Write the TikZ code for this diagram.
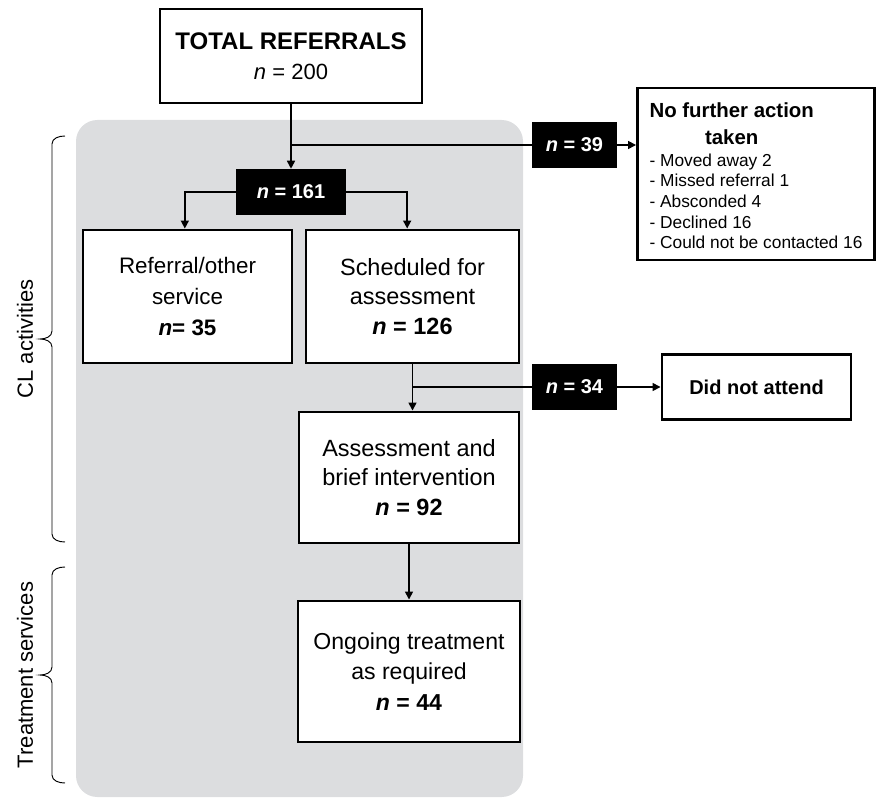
\documentclass[tikz,border=0pt]{standalone}
\usepackage{fontspec}
\setmainfont{Liberation Sans}
\usetikzlibrary{arrows.meta}
\definecolor{bggray}{RGB}{220,221,223}

\begin{document}
\begin{tikzpicture}[x=0.75pt, y=-0.75pt,
		box/.style={draw, line width=2.2pt, fill=white, align=center, inner sep=0pt,
			font=\fontsize{17.6}{22}\selectfont},
		count/.style={fill=black, text=white, inner sep=0pt, minimum width=63.75pt,
			minimum height=34.5pt, font=\fontsize{15}{18}\selectfont\bfseries},
		line/.style={line width=1.2pt},
		arr/.style={line width=1.2pt, -{Triangle[length=6pt,width=6pt]}}]
	\useasboundingbox (0,0) rectangle (877,798);
	% shaded area
	\fill[bggray, rounded corners=16pt] (76,120) rectangle (523,797);
	% braces
	\foreach \t/\b/\lab in {136/542/CL activities, 567/783/Treatment services}{
		\draw[line width=0.7pt] (65,\t) to[out=180,in=90] (52,\t+8) -- (52,{(\t+\b)/2-8})
			to[out=-90,in=0] (40,{(\t+\b)/2}) to[out=0,in=90] (52,{(\t+\b)/2+8})
			-- (52,\b-8) to[out=-90,in=180] (65,\b);
		\node[rotate=90, font=\fontsize{16.5}{20}\selectfont] (lab\t) at(25,{(\t+\b)/2}){\lab};
	}
	% boxes
	\node[box, minimum width=196.5pt, minimum height=70.5pt, font=\fontsize{16.5}{22.5}\selectfont] (total) at(291,56)
		{{\fontsize{18}{22.5}\selectfont\bfseries TOTAL REFERRALS}\\\textit{n} = 200};
	\node[count, minimum width=82.5pt] (n161) at(291,192){\textit{n} = 161};
	\node[box, minimum width=156.75pt, minimum height=99.75pt,
		font=\fontsize{16.8}{23.5}\selectfont] (ref) at(187.5,296.5)
		{Referral/other\\service\\\textbf{\textit{n}= 35}};
	\node[box, minimum width=159.75pt, minimum height=99.75pt] (sch) at(412.5,296.5)
		{Scheduled for\\assessment\\\textbf{\textit{n} = 126}};
	\node[count] (n39) at(574.5,145){\textit{n} = 39};
	\node[box, align=left, minimum width=177.75pt, minimum height=129pt,
		font=\fontsize{13}{15.4}\selectfont] (nfa) at(756,174)
		{{\fontsize{15.3}{20}\selectfont\bfseries\begin{tabular}{@{}c@{}}No further action\\taken\end{tabular}}\\
		- Moved away 2\\- Missed referral 1\\- Absconded 4\\- Declined 16\\- Could not be contacted 16};
	\node[count] (n34) at(574.5,387){\textit{n} = 34};
	\node[box, minimum width=141.75pt, minimum height=48.75pt,
		font=\fontsize{15}{18}\selectfont\bfseries] (dna) at(756.5,387){Did not attend};
	\node[box, minimum width=165pt, minimum height=98.25pt] (ab) at(409,477.5)
		{Assessment and\\brief intervention\\\textbf{\textit{n} = 92}};
	\node[box, minimum width=166.5pt, minimum height=105.75pt,
		font=\fontsize{17.3}{23}\selectfont] (ong) at(409,671.5)
		{Ongoing treatment\\as required\\\textbf{\textit{n} = 44}};
	% connectors
	\coordinate (br1) at(291,145);
	\draw[arr] (total) -- (n161);
	\draw[line] (br1) -- (n39);
	\draw[arr] (n39.east) -- (n39.east -| nfa.west);
	\draw[arr] (n161.west) -| ([xshift=-2pt]ref.north);
	\draw[arr] (n161.east) -| ([xshift=-4pt]sch.north);
	\draw[arr] (sch.south) -- (sch.south |- ab.north);
	\draw[line] (sch.south |- n34) -- (n34);
	\draw[arr] (n34) -- (dna);
	\draw[arr] (ab) -- (ong);
\end{tikzpicture}
\end{document}
